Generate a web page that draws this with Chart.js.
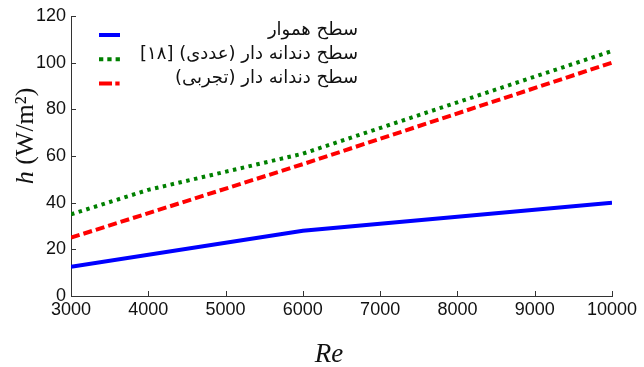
<!DOCTYPE html>
<html>
<head>
<meta charset="utf-8">
<script src="https://cdn.jsdelivr.net/npm/chart.js@4.4.0/dist/chart.umd.min.js"></script>
<style>
  html, body { margin: 0; padding: 0; background: #fff; }
  #wrap { width: 644px; height: 367px; }
</style>
</head>
<body>
<div id="wrap"><canvas id="chart" width="644" height="367"></canvas></div>
<script>
// Reynolds numbers and heat transfer coefficient h (W/m^2)
const smoothRe = [3000, 6000, 10000];
const smoothH = [12.5, 28, 40];

const numericRe = [3000, 4000, 6000, 10000];
const numericH = [35, 45.5, 61, 105];

const experimentRe = [3000, 6000, 10000];
const experimentH = [25, 56.5, 100];

const seriesLabels = [
    'سطح هموار',
    'سطح دندانه دار (عددی) [۱۸]',
    'سطح دندانه دار (تجربی)'
];

const xTicks = [3000, 4000, 5000, 6000, 7000, 8000, 9000, 10000];
const yTicks = [0, 20, 40, 60, 80, 100, 120];

const toPoints = (xs, ys) => xs.map((x, i) => ({ x, y: ys[i] }));

// ticks drawn inside the plot, like the matlab figure
const innerTicks = {
    id: 'innerTicks',
    afterDraw(chart) {
        const { ctx, chartArea: a, scales } = chart;
        ctx.save();
        ctx.strokeStyle = '#333';
        ctx.lineWidth = 1;
        scales.x.ticks.forEach(t => {
            const px = Math.round(scales.x.getPixelForValue(t.value)) + 0.5;
            ctx.beginPath();
            ctx.moveTo(px, a.bottom);
            ctx.lineTo(px, a.bottom - 5);
            ctx.stroke();
        });
        scales.y.ticks.forEach(t => {
            const py = Math.round(scales.y.getPixelForValue(t.value)) + 0.5;
            ctx.beginPath();
            ctx.moveTo(a.left, py);
            ctx.lineTo(a.left + 5, py);
            ctx.stroke();
        });
        ctx.restore();
    }
};

// legend: short line sample on the left, persian label right-aligned
const farsiLegend = {
    id: 'farsiLegend',
    afterDraw(chart) {
        const ctx = chart.ctx;
        ctx.save();
        chart.data.datasets.forEach((ds, i) => {
            const y = 35 + i * 24.2;
            ctx.strokeStyle = ds.borderColor;
            ctx.lineWidth = 4;
            ctx.setLineDash(ds.legendDash || []);
            ctx.beginPath();
            ctx.moveTo(99, y);
            ctx.lineTo(120, y);
            ctx.stroke();
            ctx.setLineDash([]);
            ctx.fillStyle = '#111';
            ctx.font = '18px "DejaVu Sans"';
            ctx.direction = 'rtl';
            ctx.textAlign = 'right';
            ctx.textBaseline = 'middle';
            ctx.fillText(ds.label, 358, y - 5);
        });
        ctx.restore();
    }
};

// axis titles with italic symbols
const axisTitles = {
    id: 'axisTitles',
    afterDraw(chart) {
        const ctx = chart.ctx;
        ctx.save();
        ctx.fillStyle = '#111';
        ctx.textBaseline = 'alphabetic';
        ctx.textAlign = 'left';

        // y title: h (W/m²)
        ctx.translate(33, 136);
        ctx.rotate(-Math.PI / 2);
        const italic = 'italic 26px "Liberation Serif"';
        const normal = '26px "Liberation Serif"';
        ctx.font = italic;
        const w1 = ctx.measureText('h').width;
        ctx.font = normal;
        const w2 = ctx.measureText(' (W/m²)').width;
        let x0 = -(w1 + w2) / 2;
        ctx.font = italic;
        ctx.fillText('h', x0, 0);
        ctx.font = normal;
        ctx.fillText(' (W/m²)', x0 + w1, 0);
        ctx.restore();

        ctx.save();
        ctx.fillStyle = '#111';
        ctx.font = 'italic 27px "Liberation Serif"';
        ctx.textAlign = 'center';
        ctx.textBaseline = 'alphabetic';
        ctx.fillText('Re', 329, 362);
        ctx.restore();
    }
};

const tickFont = { family: '"Liberation Sans", Arial', size: 18 };

new Chart(document.getElementById('chart'), {
    type: 'line',
    data: {
        datasets: [
            {
                label: seriesLabels[0],
                data: toPoints(smoothRe, smoothH),
                borderColor: '#0000ff',
                borderWidth: 4,
                legendDash: []
            },
            {
                label: seriesLabels[1],
                data: toPoints(numericRe, numericH),
                borderColor: '#008000',
                borderWidth: 4,
                borderDash: [3.5, 4.5],
                legendDash: [4.3, 4]
            },
            {
                label: seriesLabels[2],
                data: toPoints(experimentRe, experimentH),
                borderColor: '#ff0000',
                borderWidth: 4,
                borderDash: [9, 4],
                legendDash: [13, 3.3, 4.3, 10]
            }
        ]
    },
    options: {
        responsive: false,
        animation: false,
        parsing: true,
        layout: { padding: { top: 16, right: 32, left: 0, bottom: 0 } },
        elements: {
            point: { radius: 0 },
            line: { tension: 0, fill: false, borderCapStyle: 'butt' }
        },
        plugins: {
            legend: { display: false },
            tooltip: { enabled: false }
        },
        scales: {
            x: {
                type: 'linear',
                min: 3000,
                max: 10000,
                afterBuildTicks: s => { s.ticks = xTicks.map(v => ({ value: v })); },
                afterFit: s => { s.height = 71; },
                grid: { display: false, drawTicks: false },
                border: { display: true, color: '#333', width: 1 },
                ticks: {
                    font: tickFont,
                    color: '#111',
                    padding: 3,
                    maxRotation: 0,
                    autoSkip: false,
                    callback: v => String(v)
                }
            },
            y: {
                type: 'linear',
                min: 0,
                max: 120,
                afterBuildTicks: s => { s.ticks = yTicks.map(v => ({ value: v })); },
                afterFit: s => { s.width = 71; },
                grid: { display: false, drawTicks: false },
                border: { display: true, color: '#333', width: 1 },
                ticks: {
                    font: tickFont,
                    color: '#111',
                    padding: 5,
                    callback: v => String(v)
                }
            }
        }
    },
    plugins: [innerTicks, farsiLegend, axisTitles]
});
</script>
</body>
</html>
